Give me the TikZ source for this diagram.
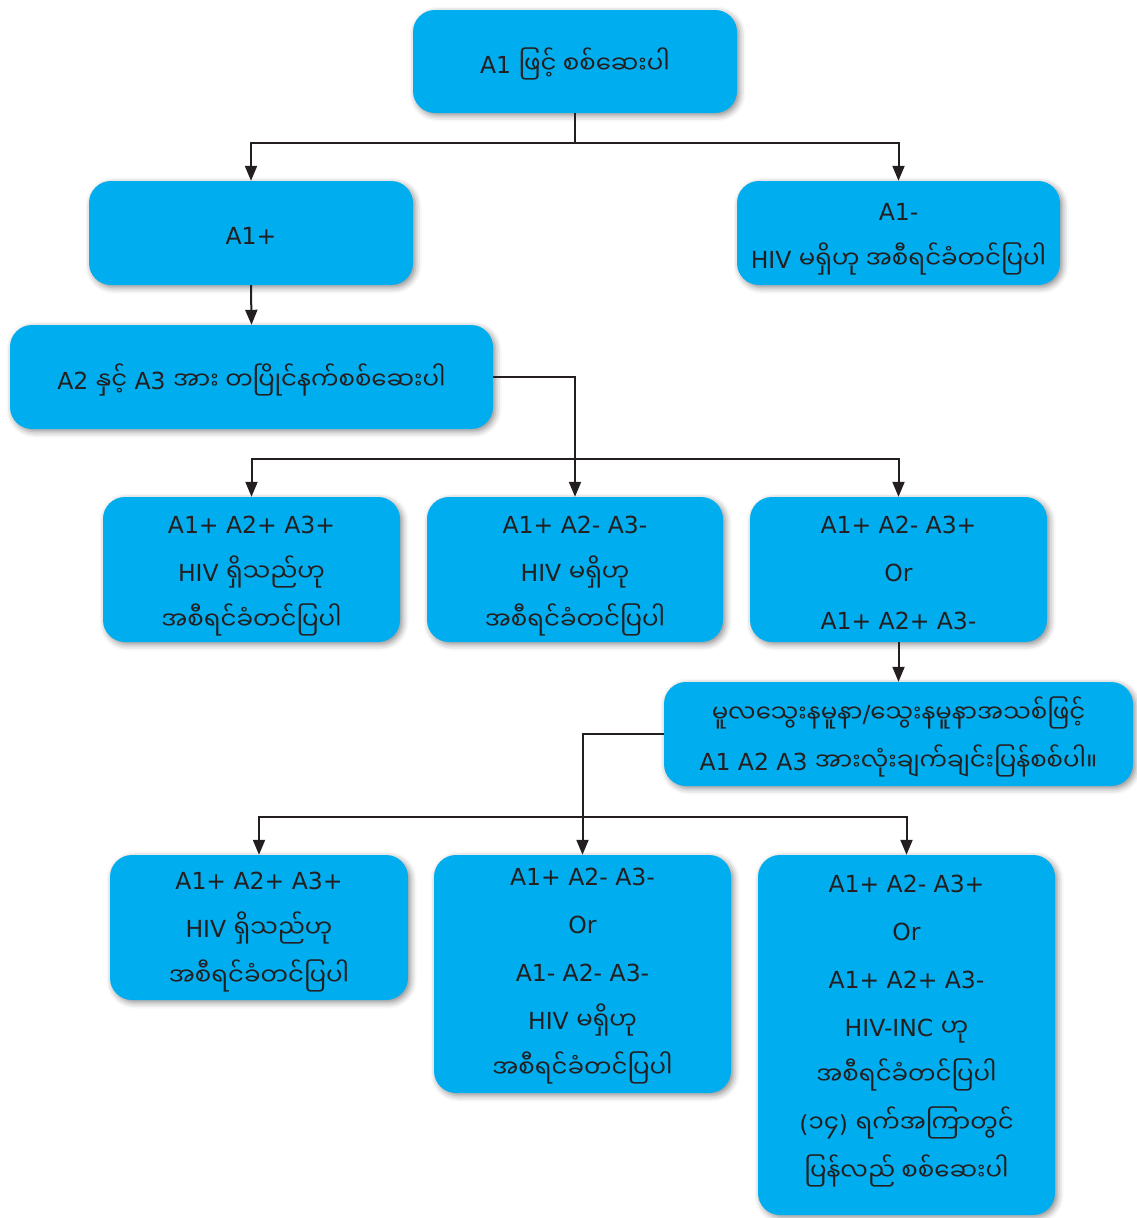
\documentclass[tikz,border=0pt]{standalone}
\usepackage{fontspec}
\setmainfont{DejaVu Sans}
\newfontfamily\mmfont[Script=Myanmar,Scale=1.04]{Noto Sans Myanmar UI}
\newcommand{\mm}[1]{{\mmfont #1}}
\usetikzlibrary{arrows.meta,shadows.blur}
\definecolor{boxblue}{HTML}{00AEEF}
\definecolor{ink}{HTML}{231F20}
\tikzset{
  flowbox/.style={rectangle, rounded corners=22pt, fill=boxblue, draw=none,
    inner sep=0pt,
    blur shadow={shadow xshift=2.5pt, shadow yshift=-2.5pt,
      shadow blur radius=6pt, shadow opacity=45}},
  boxtext/.style={align=center, text=ink, inner sep=0pt,
    font=\fontsize{23.5}{48}\selectfont},
  link/.style={draw=ink, line width=2pt},
  arr/.style={link, -{Triangle[length=15pt,width=12pt]}}
}
\begin{document}
\begin{tikzpicture}[x=1pt, y=-1pt]
\useasboundingbox (0,0) rectangle (1137,1218);

% first test
\node[flowbox, minimum width=324pt, minimum height=103pt] (top) at (575,61.5) {};
\node[boxtext] (top-t) at ([yshift=-2pt]top.center) {A1 \mm{ဖြင့် စစ်ဆေးပါ}};

% first results
\node[flowbox, minimum width=324pt, minimum height=104pt] (a1p) at (251,233) {};
\node[boxtext] (a1p-t) at ([yshift=-3pt]a1p.center) {A1+};
\node[flowbox, minimum width=323pt, minimum height=104pt] (a1m) at (898.5,233) {};
\node[boxtext] (a1m-t) at ([yshift=-6pt]a1m.center)
  {A1-\\HIV \mm{မရှိဟု အစီရင်ခံတင်ပြပါ}};

% second and third tests
\node[flowbox, minimum width=483pt, minimum height=104pt] (a23) at (251.5,377) {};
\node[boxtext] (a23-t) at ([yshift=-3pt]a23.center)
  {A2 \mm{နှင့်} A3 \mm{အား တပြိုင်နက်စစ်ဆေးပါ}};

% combined results
\node[flowbox, minimum width=297pt, minimum height=145pt] (r3l) at (251.5,569.5) {};
\node[boxtext] (r3l-t) at ([yshift=-7pt]r3l.center)
  {A1+ A2+ A3+\\HIV \mm{ရှိသည်ဟု}\\\mm{အစီရင်ခံတင်ပြပါ}};
\node[flowbox, minimum width=296pt, minimum height=145pt] (r3m) at (575,569.5) {};
\node[boxtext] (r3m-t) at ([yshift=-7pt]r3m.center)
  {A1+ A2- A3-\\HIV \mm{မရှိဟု}\\\mm{အစီရင်ခံတင်ပြပါ}};
\node[flowbox, minimum width=297pt, minimum height=145pt] (r3r) at (898.5,569.5) {};
\node[boxtext] (r3r-t) at ([yshift=-3pt]r3r.center)
  {A1+ A2- A3+\\Or\\A1+ A2+ A3-};

% repeat testing
\node[flowbox, minimum width=469pt, minimum height=104pt] (retest) at (898.5,734) {};
\node[boxtext] (retest-t) at ([yshift=-3pt]retest.center)
  {\mm{မူလသွေးနမူနာ}/\mm{သွေးနမူနာအသစ်ဖြင့်}\\A1 A2 A3 \mm{အားလုံးချက်ချင်းပြန်စစ်ပါ။}};

% final results
\node[flowbox, minimum width=298pt, minimum height=145pt] (r4l) at (259,927.5) {};
\node[boxtext] (r4l-t) at ([yshift=-5pt]r4l.center)
  {A1+ A2+ A3+\\HIV \mm{ရှိသည်ဟု}\\\mm{အစီရင်ခံတင်ပြပါ}};
\node[flowbox, minimum width=297pt, minimum height=238pt] (r4m) at (582.5,974) {};
\node[boxtext] (r4m-t) at ([yshift=-2pt]r4m.center)
  {A1+ A2- A3-\\Or\\A1- A2- A3-\\HIV \mm{မရှိဟု}\\\mm{အစီရင်ခံတင်ပြပါ}};
\node[flowbox, minimum width=297pt, minimum height=360pt] (r4r) at (906.5,1035) {};
\node[boxtext] (r4r-t) at ([yshift=4pt]r4r.center)
  {A1+ A2- A3+\\Or\\A1+ A2+ A3-\\HIV-INC \mm{ဟု}\\\mm{အစီရင်ခံတင်ပြပါ}\\(\mm{၁၄}) \mm{ရက်အကြာတွင်}\\\mm{ပြန်လည် စစ်ဆေးပါ}};

% connectors
\coordinate (j1) at (575,143);
\draw[link] (top.south) -- (j1);
\draw[arr] (j1) -| (a1p.north);
\draw[arr] (j1) -| (a1m.north);
\draw[arr] (a1p.south) -- (a23.north);

\coordinate (j2) at (575,459);
\draw[arr] (a23.east) -| (r3m.north);
\draw[arr] (j2) -| (r3l.north);
\draw[arr] (j2) -| (r3r.north);
\draw[arr] (r3r.south) -- (retest.north);

\coordinate (j3) at (582.5,817);
\draw[arr] (retest.west) -| (r4m.north);
\draw[arr] (j3) -| (r4l.north);
\draw[arr] (j3) -| (r4r.north);
\end{tikzpicture}
\end{document}
